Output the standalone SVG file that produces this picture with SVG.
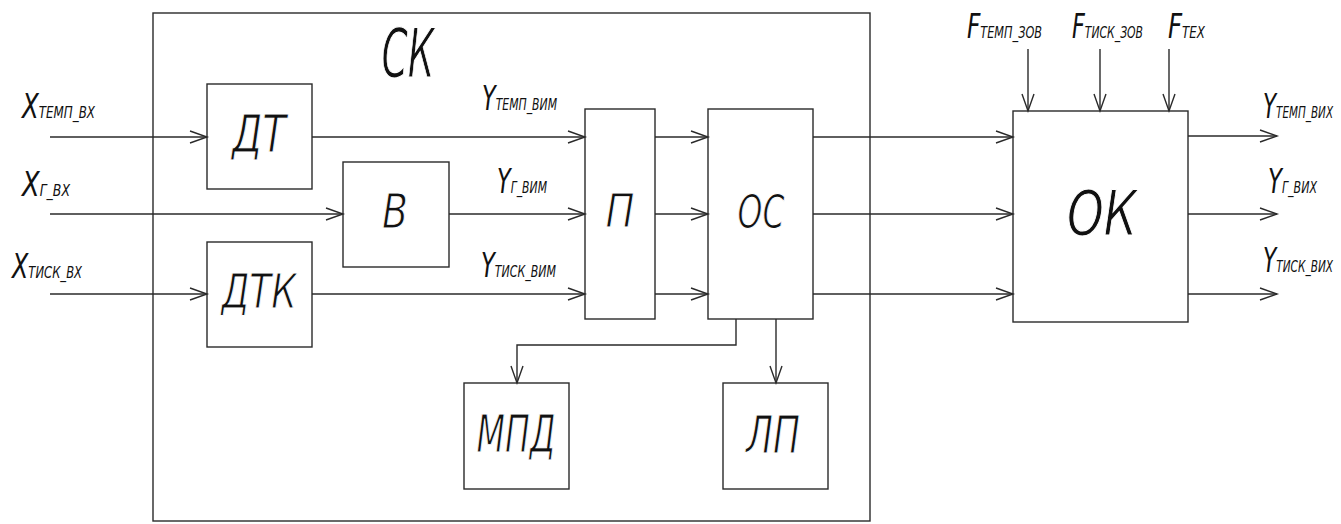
<svg xmlns="http://www.w3.org/2000/svg" width="1341" height="524" viewBox="0 0 1341 524">
<style>
.box{fill:none;stroke:#2a2a2a;stroke-width:1.4}
.ln{fill:none;stroke:#2a2a2a;stroke-width:1.4}
.big{font-family:"DejaVu Sans","Liberation Sans Narrow",sans-serif;font-weight:200;font-style:italic;fill:#111;text-anchor:middle;stroke:#fff;stroke-width:1.1px}
.lbl{font-family:"DejaVu Sans","Liberation Sans Narrow",sans-serif;font-weight:200;font-style:italic;fill:#111;font-size:33px}
.sub{font-size:16px}
</style>
<defs>
<marker id="arr" markerUnits="userSpaceOnUse" viewBox="-19 -8 20 16" markerWidth="20" markerHeight="16" refX="0" refY="0" orient="auto" overflow="visible">
<path d="M-17,-6 L0,0 L-17,6" fill="none" stroke="#2a2a2a" stroke-width="1.4"/>
</marker>
</defs>
<rect width="1341" height="524" fill="#fff"/>

<g id="SK">
<rect class="box" x="153" y="13" width="717" height="508"/>
<text class="big" x="408" y="77" font-size="67" textLength="53" lengthAdjust="spacingAndGlyphs">СК</text>
</g>
<g id="DT">
<rect class="box" x="207" y="84" width="105" height="105"/>
<text class="big" x="259" y="152" font-size="51" textLength="54" lengthAdjust="spacingAndGlyphs">ДТ</text>
</g>
<g id="V">
<rect class="box" x="343" y="162" width="106" height="105"/>
<text class="big" x="395" y="228" font-size="48" textLength="26" lengthAdjust="spacingAndGlyphs">В</text>
</g>
<g id="DTK">
<rect class="box" x="207" y="242" width="105" height="105"/>
<text class="big" x="259" y="308" font-size="48" textLength="75" lengthAdjust="spacingAndGlyphs">ДТК</text>
</g>
<g id="P">
<rect class="box" x="585" y="109" width="70" height="210"/>
<text class="big" x="620" y="227" font-size="46" textLength="29" lengthAdjust="spacingAndGlyphs">П</text>
</g>
<g id="OS">
<rect class="box" x="708" y="109" width="105" height="210"/>
<text class="big" x="761" y="228" font-size="47" textLength="47" lengthAdjust="spacingAndGlyphs">ОС</text>
</g>
<g id="MPD">
<rect class="box" x="464" y="383" width="105" height="106"/>
<text class="big" x="516" y="452" font-size="51" textLength="79" lengthAdjust="spacingAndGlyphs">МПД</text>
</g>
<g id="LP">
<rect class="box" x="723" y="383" width="105" height="106"/>
<text class="big" x="773" y="453" font-size="51" textLength="54" lengthAdjust="spacingAndGlyphs">ЛП</text>
</g>
<g id="OK">
<rect class="box" x="1013" y="111" width="175" height="211"/>
<text class="big" x="1102" y="235" font-size="63" textLength="70" lengthAdjust="spacingAndGlyphs">ОК</text>
</g>

<g id="connectors">
<line class="ln" x1="50" y1="137" x2="207" y2="137" marker-end="url(#arr)"/>
<line class="ln" x1="50" y1="214" x2="343" y2="214" marker-end="url(#arr)"/>
<line class="ln" x1="50" y1="294" x2="207" y2="294" marker-end="url(#arr)"/>
<line class="ln" x1="312" y1="137" x2="585" y2="137" marker-end="url(#arr)"/>
<line class="ln" x1="449" y1="214" x2="585" y2="214" marker-end="url(#arr)"/>
<line class="ln" x1="312" y1="294" x2="585" y2="294" marker-end="url(#arr)"/>
<line class="ln" x1="655" y1="137" x2="708" y2="137" marker-end="url(#arr)"/>
<line class="ln" x1="655" y1="214" x2="708" y2="214" marker-end="url(#arr)"/>
<line class="ln" x1="655" y1="294" x2="708" y2="294" marker-end="url(#arr)"/>
<line class="ln" x1="813" y1="137" x2="1013" y2="137" marker-end="url(#arr)"/>
<line class="ln" x1="813" y1="214" x2="1013" y2="214" marker-end="url(#arr)"/>
<line class="ln" x1="813" y1="294" x2="1013" y2="294" marker-end="url(#arr)"/>
<line class="ln" x1="1188" y1="136" x2="1277" y2="136" marker-end="url(#arr)"/>
<line class="ln" x1="1188" y1="214" x2="1277" y2="214" marker-end="url(#arr)"/>
<line class="ln" x1="1188" y1="294" x2="1277" y2="294" marker-end="url(#arr)"/>
<line class="ln" x1="1028" y1="49" x2="1028" y2="111" marker-end="url(#arr)"/>
<line class="ln" x1="1100" y1="49" x2="1100" y2="111" marker-end="url(#arr)"/>
<line class="ln" x1="1169" y1="49" x2="1169" y2="111" marker-end="url(#arr)"/>
<polyline class="ln" points="736,319 736,345 517,345 517,383" marker-end="url(#arr)"/>
<line class="ln" x1="776" y1="319" x2="776" y2="383" marker-end="url(#arr)"/>
</g>

<g id="labels">
<text class="lbl" x="22" y="118" textLength="73" lengthAdjust="spacingAndGlyphs">X<tspan class="sub">ТЕМП_ВХ</tspan></text>
<text class="lbl" x="22" y="196" textLength="48" lengthAdjust="spacingAndGlyphs">X<tspan class="sub">Г_ВХ</tspan></text>
<text class="lbl" x="12" y="278" textLength="70" lengthAdjust="spacingAndGlyphs">X<tspan class="sub">ТИСК_ВХ</tspan></text>
<text class="lbl" x="482" y="110" textLength="75" lengthAdjust="spacingAndGlyphs">Y<tspan class="sub">ТЕМП_ВИМ</tspan></text>
<text class="lbl" x="497" y="193" textLength="50" lengthAdjust="spacingAndGlyphs">Y<tspan class="sub">Г_ВИМ</tspan></text>
<text class="lbl" x="481" y="277" textLength="75" lengthAdjust="spacingAndGlyphs">Y<tspan class="sub">ТИСК_ВИМ</tspan></text>
<text class="lbl" x="967" y="38" textLength="75" lengthAdjust="spacingAndGlyphs">F<tspan class="sub">ТЕМП_ЗОВ</tspan></text>
<text class="lbl" x="1072" y="38" textLength="71" lengthAdjust="spacingAndGlyphs">F<tspan class="sub">ТИСК_ЗОВ</tspan></text>
<text class="lbl" x="1168" y="38" textLength="37" lengthAdjust="spacingAndGlyphs">F<tspan class="sub">ТЕХ</tspan></text>
<text class="lbl" x="1263" y="118" textLength="70" lengthAdjust="spacingAndGlyphs">Y<tspan class="sub">ТЕМП_ВИХ</tspan></text>
<text class="lbl" x="1268" y="193" textLength="49" lengthAdjust="spacingAndGlyphs">Y<tspan class="sub">Г_ВИХ</tspan></text>
<text class="lbl" x="1263" y="272" textLength="70" lengthAdjust="spacingAndGlyphs">Y<tspan class="sub">ТИСК_ВИХ</tspan></text>
</g>
</svg>
